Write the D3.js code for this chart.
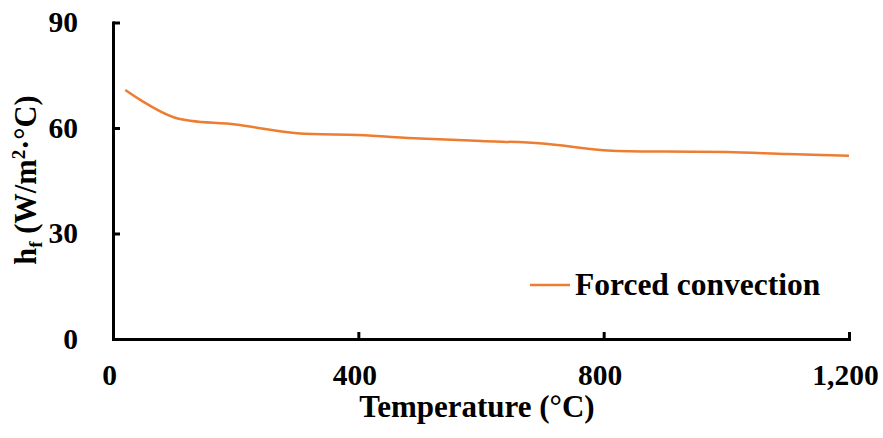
<!DOCTYPE html>
<html>
<head>
<meta charset="utf-8">
<script src="https://cdn.jsdelivr.net/npm/d3@7"></script>
<style>
  html, body { margin: 0; padding: 0; background: #fff; }
  svg { display: block; }
</style>
</head>
<body>
<svg id="chart" width="883" height="438"></svg>
<script>
// Convective heat transfer coefficient vs temperature
const temperatures = [20, 100, 200, 300, 400, 500, 600, 700, 800, 900, 1000, 1100, 1200];
const forcedConvection = [70.8, 63.0, 61.0, 58.5, 58.0, 57.0, 56.3, 55.6, 53.7, 53.3, 53.2, 52.6, 52.1];
const xTicks = [0, 400, 800, 1200];
const yTicks = [0, 30, 60, 90];
const seriesName = "Forced convection";

const serif = "Liberation Serif";

const svg = d3.select("#chart");
const plotLeft = 113, plotRight = 849, plotTop = 22.5, plotBottom = 339;

const x = d3.scaleLinear().domain([0, 1200]).range([plotLeft, plotRight]);
const y = d3.scaleLinear().domain([0, 90]).range([plotBottom, plotTop]);

const xAxis = d3.axisBottom(x)
  .tickValues(xTicks)
  .tickFormat(d3.format(","))
  .tickSizeInner(-7)
  .tickSizeOuter(0)
  .tickPadding(25);

const yAxis = d3.axisLeft(y)
  .tickValues(yTicks)
  .tickFormat(d3.format("d"))
  .tickSizeInner(-7)
  .tickSizeOuter(0)
  .tickPadding(35);

const gx = svg.append("g").attr("transform", `translate(0,${plotBottom})`).call(xAxis);
const gy = svg.append("g").attr("transform", `translate(${plotLeft},0)`).call(yAxis);

[gx, gy].forEach(g => {
  g.attr("font-family", serif).attr("font-size", 29.5).attr("font-weight", "bold");
  g.select(".domain").attr("stroke", "#000").attr("stroke-width", 3).attr("stroke-linecap", "square");
  g.selectAll(".tick line").attr("stroke", "#000").attr("stroke-width", 3);
  g.selectAll(".tick text").attr("fill", "#000");
});
gx.selectAll(".tick text").attr("dx", "-4");

// Series line
const line = d3.line()
  .x((d, i) => x(temperatures[i]))
  .y(d => y(d))
  .curve(d3.curveCatmullRom.alpha(0.5));

svg.append("path")
  .datum(forcedConvection)
  .attr("fill", "none")
  .attr("stroke", "#ED7D31")
  .attr("stroke-width", 2.5)
  .attr("d", line);

function label(sel, size) {
  return sel.attr("font-family", serif).attr("font-weight", "bold")
    .attr("font-size", size).attr("fill", "#000");
}

// Legend
svg.append("line")
  .attr("x1", 530).attr("x2", 570)
  .attr("y1", 285).attr("y2", 285)
  .attr("stroke", "#ED7D31").attr("stroke-width", 2.5);
label(svg.append("text"), 31.5)
  .attr("x", 575).attr("y", 295)
  .text(seriesName);

// Axis titles
label(svg.append("text"), 31)
  .attr("x", 477).attr("y", 417)
  .attr("text-anchor", "middle")
  .text("Temperature  (°C)");

const yTitle = label(svg.append("text"), 30.5)
  .attr("transform", "translate(36,180) rotate(-90)")
  .attr("text-anchor", "middle");
yTitle.append("tspan").text("h");
yTitle.append("tspan").attr("dy", "6").attr("font-size", 19).text("f");
yTitle.append("tspan").attr("dy", "-6").text(" (W/m");
yTitle.append("tspan").attr("dy", "-11").attr("font-size", 19).text("2");
yTitle.append("tspan").attr("dy", "11").text("·°C)");
</script>
</body>
</html>
